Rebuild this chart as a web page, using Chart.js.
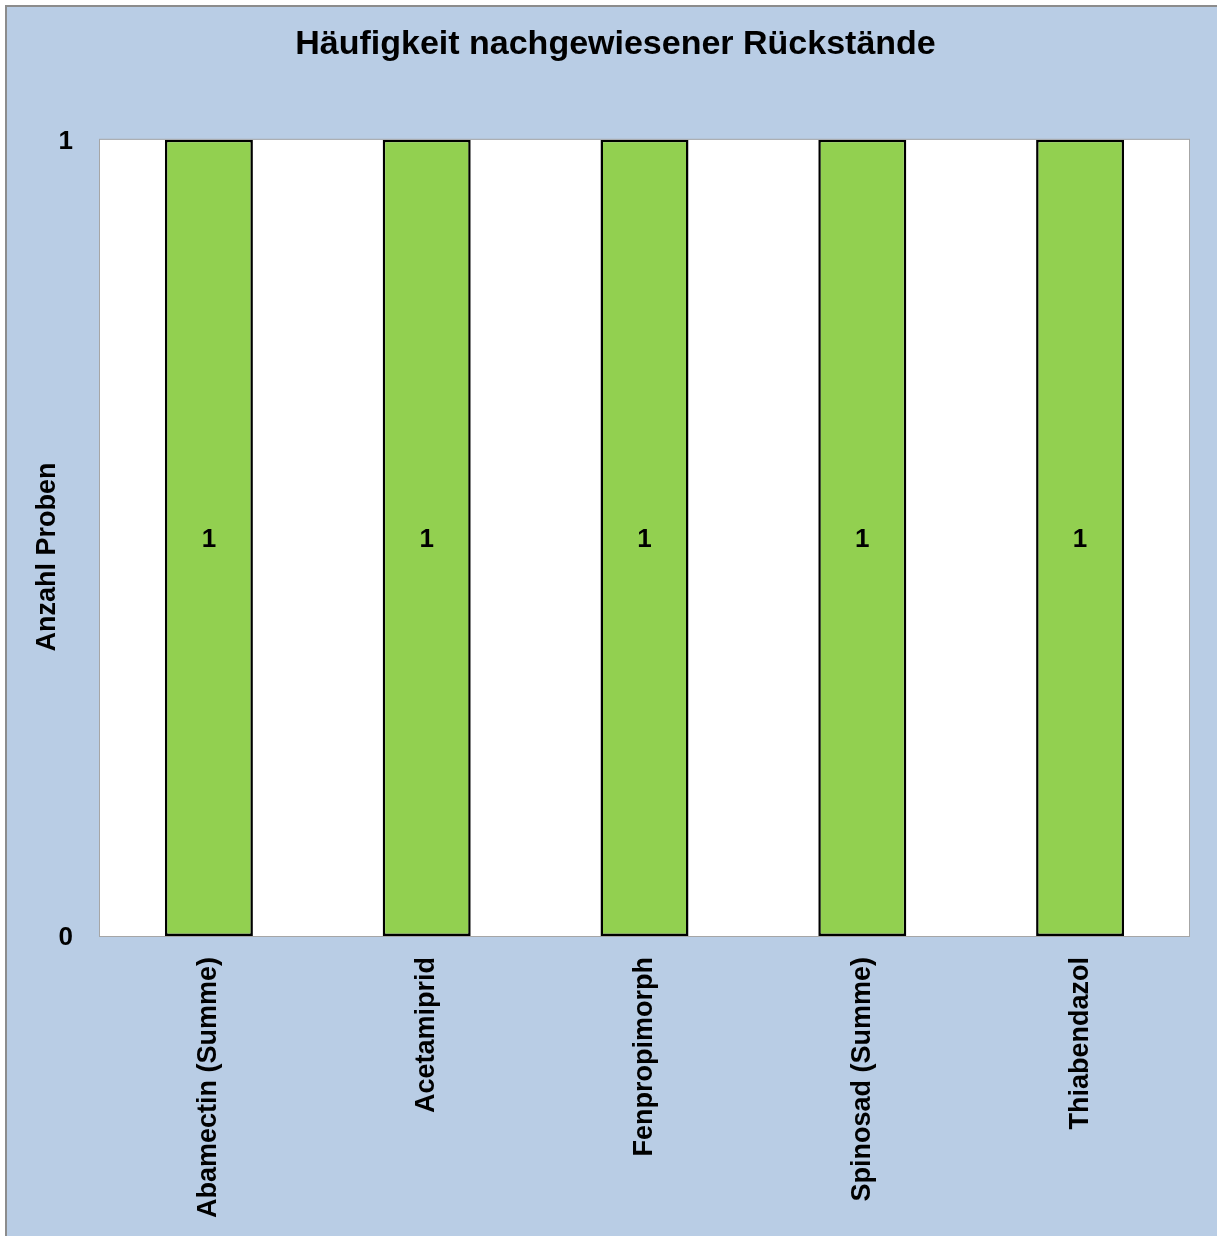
<!DOCTYPE html>
<html lang="de">
<head>
<meta charset="utf-8">
<title>Häufigkeit nachgewiesener Rückstände</title>
<script src="https://cdn.jsdelivr.net/npm/chart.js@4.4.1/dist/chart.umd.min.js"></script>
<style>
  html, body { margin: 0; padding: 0; background: #ffffff; }
  canvas { display: block; }
</style>
</head>
<body>
<canvas id="myChart" width="1217" height="1236"></canvas>
<script>
'use strict';
/*---------------------------------*/
/*-----------Chart Data------------*/
/*---------------------------------*/
let wirkstoffe = ['Abamectin (Summe)', 'Acetamiprid', 'Fenpropimorph', 'Spinosad (Summe)', 'Thiabendazol'];
let anzahlProben = [1, 1, 1, 1, 1];
let yTicks = [0, 1];
let chartTitle = 'Häufigkeit nachgewiesener Rückstände';
let yTitle = 'Anzahl Proben';
/*---------------------------------*/
/*-------------Styles--------------*/
/*---------------------------------*/
let fontFamily = "'Liberation Sans', Arial, sans-serif";
let chartBg = '#b9cde5';
let plotBg = '#ffffff';
let barGreen = '#92d050';
/*---------------------------------*/
/*------Background + Frame Plugin--*/
/*---------------------------------*/
const backgroundPlugin = {
  id: 'backgroundPlugin',
  beforeDraw(chart) {
    const ctx = chart.ctx;
    const area = chart.chartArea;
    ctx.save();
    // outer chart frame
    ctx.fillStyle = chartBg;
    ctx.fillRect(6, 6, chart.width - 6, chart.height - 6);
    ctx.strokeStyle = '#8c8c8c';
    ctx.lineWidth = 2;
    ctx.beginPath();
    ctx.moveTo(6, chart.height);
    ctx.lineTo(6, 6);
    ctx.lineTo(chart.width, 6);
    ctx.stroke();
    // plot area
    ctx.fillStyle = plotBg;
    ctx.fillRect(area.left, area.top, area.right - area.left, area.bottom - area.top);
    ctx.strokeStyle = '#a6a6a6';
    ctx.lineWidth = 1;
    ctx.strokeRect(area.left - 0.5, area.top - 0.5, area.right - area.left + 1, area.bottom - area.top + 1);
    ctx.restore();
  },
  afterDraw(chart) {
    // y axis title, sitting a bit below the middle of the axis
    const ctx = chart.ctx;
    const area = chart.chartArea;
    ctx.save();
    ctx.translate(48, (area.top + area.bottom) / 2 + 19);
    ctx.rotate(-Math.PI / 2);
    ctx.font = 'bold 27px ' + fontFamily;
    ctx.fillStyle = '#000000';
    ctx.textAlign = 'center';
    ctx.textBaseline = 'middle';
    ctx.fillText(yTitle, 0, 0);
    ctx.restore();
  }
};
/*---------------------------------*/
/*--------Value Label Plugin-------*/
/*---------------------------------*/
const valueLabelPlugin = {
  id: 'valueLabelPlugin',
  afterDatasetsDraw(chart) {
    const ctx = chart.ctx;
    ctx.save();
    ctx.font = 'bold 26px ' + fontFamily;
    ctx.fillStyle = '#000000';
    ctx.textAlign = 'center';
    ctx.textBaseline = 'middle';
    chart.data.datasets.forEach((dataset, i) => {
      chart.getDatasetMeta(i).data.forEach((bar, j) => {
        ctx.fillText(String(dataset.data[j]), bar.x, (bar.y + bar.base) / 2 + 2);
      });
    });
    ctx.restore();
  }
};
/*---------------------------------*/
/*----------ChartJS Render---------*/
/*---------------------------------*/
function renderChart() {
  const data = {
    labels: wirkstoffe,
    datasets: [
      {
        label: yTitle,
        data: anzahlProben,
        backgroundColor: barGreen,
        borderColor: '#000000',
        borderWidth: 2.5,
        borderSkipped: false,
        categoryPercentage: 1,
        barPercentage: 0.404,
      },
    ],
  };

  const config = {
    type: 'bar',
    data: data,
    plugins: [backgroundPlugin, valueLabelPlugin],
    options: {
      responsive: false,
      animation: false,
      layout: {
        padding: { left: 42, right: 28, top: 0, bottom: 0 },
      },
      plugins: {
        legend: { display: false },
        tooltip: { enabled: false },
        title: {
          display: true,
          text: chartTitle,
          color: '#000000',
          font: { family: fontFamily, size: 34, weight: 'bold' },
          padding: { top: 24, bottom: 75 },
        },
      },
      scales: {
        x: {
          grid: { display: false },
          border: { display: false },
          ticks: {
            color: '#000000',
            font: { family: fontFamily, size: 27, weight: 'bold' },
            minRotation: 90,
            maxRotation: 90,
            autoSkip: false,
            padding: 13,
          },
          afterFit(scale) {
            scale.height = 300;
          },
        },
        y: {
          min: 0,
          max: 1,
          grid: { display: false, drawTicks: false },
          border: { display: false },
          afterBuildTicks(scale) {
            scale.ticks = yTicks.map((v) => ({ value: v }));
          },
          ticks: {
            color: '#000000',
            font: { family: fontFamily, size: 26, weight: 'bold' },
            padding: 27,
            labelOffset: 2,
          },
          afterFit(scale) {
            scale.width = 58;
          },
        },
      },
    },
  };
  const myChart = new Chart(document.getElementById('myChart'), config);
}
renderChart();
</script>
</body>
</html>
